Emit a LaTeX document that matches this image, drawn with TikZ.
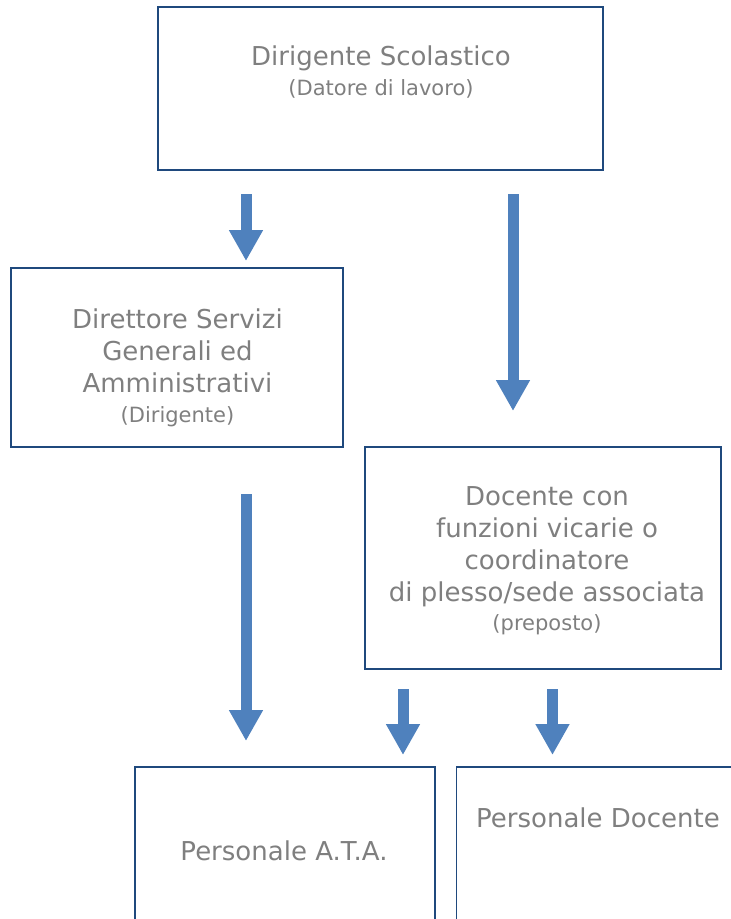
\documentclass[tikz,border=0pt]{standalone}
\usepackage{fontspec}
\setmainfont{DejaVu Sans}
\usetikzlibrary{arrows.meta}
\definecolor{boxblue}{HTML}{1F497D}
\definecolor{arrowblue}{HTML}{4F81BD}
\definecolor{textgray}{HTML}{7F7F7F}
\newcommand{\role}[1]{{\fontsize{21}{26}\selectfont #1}}

\begin{document}
\begin{tikzpicture}[x=1pt, y=-1pt,
		box/.style = {draw=boxblue, line width=1.2pt, inner sep=0pt},
		txt/.style = {text=textgray, align=center, inner sep=0pt,
			font=\fontsize{26}{32}\selectfont},
		bigarrow/.style = {draw=arrowblue, line width=11pt,
			-{Triangle[width=32pt, length=31pt]}}
		]
		\useasboundingbox (0,0) rectangle (731,919);

		% boxes
		\node[box, minimum width=445pt, minimum height=163pt] (ds) at (380.5,88.5) {};
		\node[box, minimum width=332pt, minimum height=179pt] (dsga) at (177,357.5) {};
		\node[box, minimum width=356pt, minimum height=222pt] (vic) at (543,558) {};
		\node[box, minimum width=300pt, minimum height=170pt] (ata) at (285,852) {};
		\node[box, minimum width=284pt, minimum height=170pt] (doc) at (598.5,852) {};

		% texts
		\node[txt] (ds-t) at (381,72) {Dirigente Scolastico\\[-2pt] \role{(Datore di lavoro)}};
		\node[txt] (dsga-t) at (177.5,367.5) {Direttore Servizi\\ Generali ed\\ Amministrativi\\[-2pt] \role{(Dirigente)}};
		\node[txt] (vic-t) at (547,561) {Docente con\\ funzioni vicarie o\\ coordinatore\\ di plesso/sede associata\\[-3pt] \role{(preposto)}};
		\node[txt] (ata-t) at (284,851) {Personale A.T.A.};
		\node[txt] (doc-t) at (598,818) {Personale Docente};

		% arrows
		\coordinate (a1-s) at (246,194);
		\coordinate (a1-e) at (246,261);
		\coordinate (a2-s) at (513,194);
		\coordinate (a2-e) at (513,411);
		\coordinate (a3-s) at (246,494);
		\coordinate (a3-e) at (246,741);
		\coordinate (a4-s) at (403,689);
		\coordinate (a4-e) at (403,755);
		\coordinate (a5-s) at (552.5,689);
		\coordinate (a5-e) at (552.5,755);
		\draw[bigarrow] (a1-s) -- (a1-e);
		\draw[bigarrow] (a2-s) -- (a2-e);
		\draw[bigarrow] (a3-s) -- (a3-e);
		\draw[bigarrow] (a4-s) -- (a4-e);
		\draw[bigarrow] (a5-s) -- (a5-e);
	\end{tikzpicture}
\end{document}
